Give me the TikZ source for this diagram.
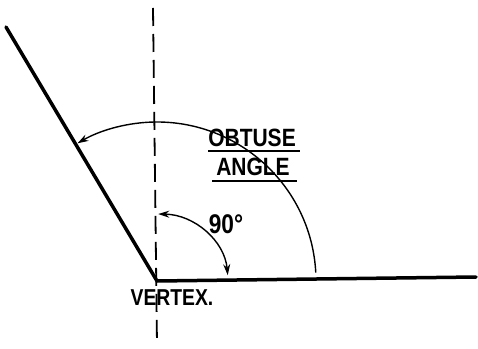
\documentclass[tikz,border=0pt]{standalone}
\usepackage{fontspec}
\newfontfamily\hand[FakeStretch=0.84]{Liberation Sans}
\usetikzlibrary{arrows.meta}
\begin{document}
\begin{tikzpicture}[x=1pt,y=1pt,
  thick line/.style={line width=3.5pt, line cap=round},
  guide/.style={line width=1.8pt, dash pattern=on 18pt off 8pt},
  arcline/.style={line width=1.4pt},
  tip/.style={-{Stealth[length=11pt,width=7pt]}},
  label/.style={inner sep=0pt, font=\hand\bfseries\fontsize{25}{25}\selectfont},
  uline/.style={line width=1.8pt}]
\useasboundingbox (0,0) rectangle (478,348);
\coordinate (V) at (157,67);
\coordinate (T) at (6,321);
\coordinate (H) at (476,71);
\coordinate (D1) at (153,340);
\coordinate (D2) at (157,3);
\draw[guide] (D1) -- (D2);
\draw[thick line] (T) -- (V) -- (H);
% obtuse arc
\draw[arcline,tip] ([shift={(3:159)}]V) arc[start angle=3, end angle=120, radius=159];
% right angle arc
\draw[arcline,{Stealth[length=11pt,width=7pt]}-{Stealth[length=11pt,width=7pt]}]
  ([shift={(5:71 and 67)}]V) arc[start angle=5, end angle=89, x radius=71, y radius=67];
\node[label] (obtuse) at (252,210.5) {OBTUSE};
\node[label] (angle) at (253,181.5) {ANGLE};
\coordinate (u1a) at (208,197); \coordinate (u1b) at (300,197);
\coordinate (u2a) at (212,167); \coordinate (u2b) at (297,167);
\draw[uline] (u1a) -- (u1b);
\draw[uline] (u2a) -- (u2b);
\node[label, font=\hand\bfseries\fontsize{27}{27}\selectfont] (ninety) at (226,124) {90°};
\node[label, font=\hand\bfseries\fontsize{23}{23}\selectfont] (vertex) at (172,50) {VERTEX.};
\end{tikzpicture}
\end{document}
